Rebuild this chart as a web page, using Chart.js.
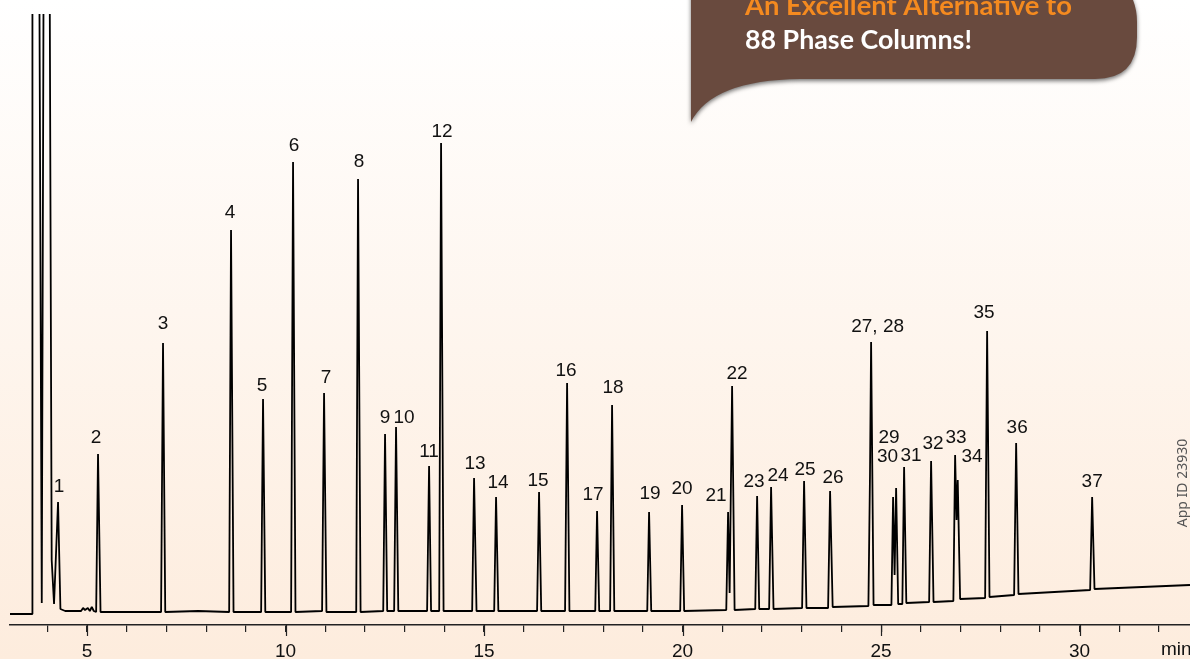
<!DOCTYPE html>
<html>
<head>
<meta charset="utf-8">
<script src="https://cdn.jsdelivr.net/npm/chart.js@4.4.1/dist/chart.umd.min.js"></script>
<style>
html,body{margin:0;padding:0;background:#ffffff;}
#wrap{width:1190px;height:659px;position:relative;overflow:hidden;}
canvas{display:block;}
</style>
</head>
<body>
<div id="wrap"><canvas id="c" width="1190" height="659"></canvas></div>
<script>
// ---- Data (time in min, detector signal in arbitrary units) ----
const trace = [
  [3.06, 11], [3.615, 11], [3.625, 640], [3.80, 640], [3.86, 22], [3.905, 640], [4.06, 640],
  [4.11, 65], [4.169, 21], [4.27, 123], [4.33, 16], [4.45, 14], [4.70, 14], [4.85, 14], [4.90, 17], [4.95, 15],
  [5.02, 17], [5.07, 14], [5.12, 18], [5.17, 14],
  [5.23, 13], [5.277, 171], [5.34, 13],
  [6.20, 13], [6.865, 13], [6.914, 282], [6.97, 13],
  [7.80, 14], [8.58, 13], [8.627, 395], [8.69, 13],
  [9.385, 13], [9.433, 226], [9.49, 13],
  [10.14, 13], [10.189, 463], [10.25, 13],
  [10.92, 14], [10.970, 232], [11.03, 13],
  [11.78, 13], [11.826, 446], [11.89, 13],
  [12.46, 14], [12.506, 191], [12.56, 14], [12.735, 14], [12.783, 198], [12.84, 14],
  [13.565, 14], [13.615, 159], [13.665, 14], [13.87, 14], [13.917, 482], [13.98, 14],
  [14.70, 14], [14.748, 147], [14.81, 14],
  [15.255, 14], [15.302, 128], [15.36, 14],
  [16.335, 14], [16.385, 133], [16.44, 14],
  [17.04, 14], [17.091, 242], [17.15, 14],
  [17.80, 14], [17.846, 114], [17.90, 14], [18.175, 14], [18.224, 220], [18.28, 14],
  [19.11, 14], [19.156, 113], [19.21, 14],
  [19.94, 14], [19.987, 120], [20.04, 14],
  [21.10, 15], [21.146, 113], [21.185, 32], [21.247, 239], [21.31, 15],
  [21.83, 16], [21.877, 129], [21.93, 16], [22.18, 16], [22.229, 138], [22.29, 16],
  [23.01, 17], [23.060, 144], [23.12, 17],
  [23.665, 17], [23.715, 134], [23.78, 18],
  [24.68, 19], [24.72, 150], [24.748, 283], [24.81, 20],
  [25.26, 20], [25.302, 128], [25.34, 50], [25.378, 137], [25.43, 21], [25.49, 21],
  [25.535, 21], [25.579, 158], [25.635, 22],
  [26.21, 23], [26.259, 164], [26.32, 23],
  [26.82, 24], [26.864, 170], [26.90, 105], [26.93, 145], [26.99, 26],
  [27.62, 27], [27.670, 294], [27.73, 28],
  [28.35, 30], [28.401, 182], [28.46, 31],
  [30.265, 35], [30.315, 128], [30.375, 36],
  [32.78, 40]
];

const peakLabels = ["1","2","3","4","5","6","7","8","9","10","11","12","13","14","15","16","17","18","19","20",
  "21","22","23","24","25","26","27, 28","29","30","31","32","33","34","35","36","37"];
const labelTimes = [4.295, 5.227, 6.914, 8.602, 9.408, 10.214, 11.020, 11.851, 12.506, 12.985, 13.615, 13.942,
  14.773, 15.353, 16.360, 17.065, 17.746, 18.249, 19.181, 19.987, 20.844, 21.373, 21.801, 22.406, 23.086,
  23.791, 24.912, 25.202, 25.164, 25.756, 26.310, 26.889, 27.292, 27.594, 28.426, 30.315];
const labelValues = [138, 187, 301, 412, 239, 479, 247, 463, 207, 207, 173, 493,
  161, 142, 144, 254, 130, 237, 131, 136, 129, 251, 143, 149, 155,
  147, 298, 187, 168, 169, 181, 187, 168, 312, 197, 143];

const xMin = 3.06, xMax = 32.78;
const majorTicks = [5, 10, 15, 20, 25, 30];
const axisUnit = "min";
const calloutLine1 = "An Excellent Alternative to";
const calloutLine2 = "88 Phase Columns!";
const appId = "App ID 23930";

const FONT = '"Liberation Sans", Arial, Helvetica, sans-serif';

// ---- plugins ----
const bgPlugin = {
  id: 'bg',
  beforeDraw(chart) {
    const ctx = chart.ctx;
    const g = ctx.createLinearGradient(0, 0, 0, chart.height);
    g.addColorStop(0, '#ffffff');
    g.addColorStop(1, '#fdecdd');
    ctx.save();
    ctx.fillStyle = g;
    ctx.fillRect(0, 0, chart.width, chart.height);
    ctx.restore();
  }
};

const labelPlugin = {
  id: 'peakLabels',
  afterDatasetsDraw(chart) {
    const ctx = chart.ctx;
    const xs = chart.scales.x, ys = chart.scales.y;
    ctx.save();
    ctx.fillStyle = '#111';
    ctx.font = '19px ' + FONT;
    ctx.textAlign = 'center';
    ctx.textBaseline = 'middle';
    peakLabels.forEach((t, i) => {
      ctx.fillText(t, xs.getPixelForValue(labelTimes[i]), ys.getPixelForValue(labelValues[i]));
    });
    ctx.restore();
  }
};

const axisExtras = {
  id: 'axisExtras',
  afterDraw(chart) {
    const ctx = chart.ctx;
    const xs = chart.scales.x;
    ctx.save();
    ctx.strokeStyle = '#222';
    ctx.lineWidth = 1.2;
    majorTicks.forEach(v => {
      const px = Math.round(xs.getPixelForValue(v)) + 0.5;
      ctx.beginPath();
      ctx.moveTo(px, xs.top);
      ctx.lineTo(px, xs.top + 11);
      ctx.stroke();
    });
    ctx.fillStyle = '#111';
    ctx.font = '19px ' + FONT;
    ctx.textAlign = 'left';
    ctx.textBaseline = 'middle';
    ctx.fillText(axisUnit, 1161, 650);

    // App ID (rotated)
    ctx.save();
    ctx.translate(1183, 483);
    ctx.rotate(-Math.PI / 2);
    ctx.font = '14px "Noto Sans", "Open Sans", sans-serif';
    ctx.fillStyle = '#555';
    ctx.textAlign = 'center';
    ctx.textBaseline = 'middle';
    ctx.fillText(appId, 0, 0);
    ctx.restore();

    // Callout box
    ctx.save();
    ctx.shadowColor = 'rgba(0,0,0,0.55)';
    ctx.shadowBlur = 4;
    ctx.shadowOffsetY = 2;
    ctx.fillStyle = '#694a3e';
    ctx.beginPath();
    ctx.moveTo(691, -30);
    ctx.lineTo(691, 122);
    ctx.quadraticCurveTo(712, 80, 800, 79);
    ctx.lineTo(1095, 79);
    ctx.quadraticCurveTo(1137, 79, 1137, 37);
    ctx.lineTo(1137, 22);
    ctx.quadraticCurveTo(1137, -12, 1105, -30);
    ctx.closePath();
    ctx.fill();
    ctx.restore();

    ctx.textAlign = 'left';
    ctx.textBaseline = 'alphabetic';
    const fam = 'Lato, "Open Sans", sans-serif';
    ctx.font = 'bold 20px ' + fam;
    let w1 = ctx.measureText(calloutLine1).width;
    ctx.font = 'bold ' + (20 * 327 / w1).toFixed(2) + 'px ' + fam;
    ctx.fillStyle = '#f58a1f';
    ctx.fillText(calloutLine1, 745, 15);
    ctx.font = 'bold 20px ' + fam;
    let w2 = ctx.measureText(calloutLine2).width;
    ctx.font = 'bold ' + (20 * 227 / w2).toFixed(2) + 'px ' + fam;
    ctx.fillStyle = '#ffffff';
    ctx.fillText(calloutLine2, 745, 49);
    ctx.restore();
  }
};

new Chart(document.getElementById('c'), {
  type: 'line',
  data: {
    datasets: [{
      data: trace.map(p => ({ x: p[0], y: p[1] })),
      borderColor: '#000',
      borderWidth: 1.8,
      pointRadius: 0,
      tension: 0,
      fill: false,
      borderJoinStyle: 'bevel'
    }]
  },
  options: {
    responsive: false,
    devicePixelRatio: 1,
    animation: false,
    events: [],
    layout: { padding: { left: 10, right: 0, top: 14, bottom: 0 } },
    plugins: { legend: { display: false }, tooltip: { enabled: false } },
    scales: {
      x: {
        type: 'linear',
        min: xMin,
        max: xMax,
        afterFit: s => { s.height = 34; },
        border: { display: true, color: '#222', width: 1.5 },
        grid: { display: true, drawOnChartArea: false, drawTicks: true, tickLength: 7, color: '#222', lineWidth: 1.2 },
        ticks: {
          stepSize: 1,
          autoSkip: false,
          includeBounds: false,
          maxRotation: 0,
          padding: 8,
          color: '#111',
          font: { family: FONT, size: 19 },
          callback: v => (majorTicks.includes(v) ? String(v) : '')
        }
      },
      y: { display: false, min: 0, max: 611 }
    }
  },
  plugins: [bgPlugin, labelPlugin, axisExtras]
});
</script>
</body>
</html>
